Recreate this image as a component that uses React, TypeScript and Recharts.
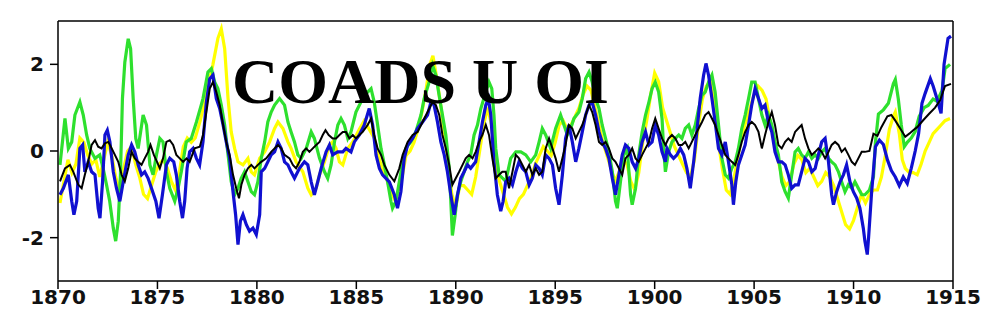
import React from 'react';
import { LineChart, Line, XAxis, YAxis } from 'recharts';

// [year, value] pairs
const yellow: [number, number][] = [
  [1870.1, -1.2], [1870.3, -0.7], [1870.5, -0.2], [1870.7, -0.5], [1870.9, -0.3], [1871.1, 0.3], [1871.3, 0.2], [1871.5, -0.1],
  [1871.7, -0.3], [1871.9, -0.2], [1872.1, -0.6], [1872.3, -0.2], [1872.5, 0.2], [1872.7, -0.1], [1872.9, -0.6], [1873.1, -0.9],
  [1873.3, -0.4], [1873.5, 0.0], [1873.7, 0.1], [1873.9, -0.3], [1874.1, -0.6], [1874.3, -1.0], [1874.5, -1.1], [1874.7, -0.8],
  [1874.9, -0.5], [1875.1, -0.3], [1875.3, -0.2], [1875.5, -0.4], [1875.7, -0.7], [1875.9, -0.9], [1876.1, -0.5], [1876.3, 0.1],
  [1876.5, 0.3], [1876.7, 0.2], [1876.9, 0.3], [1877.15, 0.7], [1877.46, 1.3], [1877.79, 2.0], [1878.04, 2.6], [1878.21, 2.82],
  [1878.38, 2.36], [1878.55, 1.21], [1878.71, 0.44], [1878.88, 0.06], [1879.05, -0.25], [1879.3, -0.32], [1879.55, -0.17],
  [1879.72, -0.48], [1879.88, -0.55], [1880.14, -0.17], [1880.39, -0.02], [1880.64, 0.21], [1880.89, 0.52], [1881.06, 0.67],
  [1881.31, 0.52], [1881.56, 0.21], [1881.72, 0.06], [1881.97, -0.25], [1882.31, -0.48], [1882.56, -0.86], [1882.73, -1.01],
  [1882.98, -0.86], [1883.15, -0.55], [1883.4, -0.25], [1883.65, 0.14], [1883.81, 0.21], [1883.98, 0.06], [1884.15, -0.25],
  [1884.32, -0.32], [1884.57, 0.06], [1884.82, 0.21], [1885.15, 0.5], [1885.4, 0.7], [1885.65, 0.5], [1885.9, 0.3], [1886.1, -0.1],
  [1886.3, -0.4], [1886.5, -0.6], [1886.7, -0.9], [1886.9, -1.1], [1887.1, -1.0], [1887.3, -0.6], [1887.5, -0.1], [1887.7, 0.0],
  [1887.9, 0.2], [1888.1, 0.5], [1888.3, 0.9], [1888.5, 1.4], [1888.7, 2.0], [1888.85, 2.2], [1889.0, 1.8], [1889.2, 1.2],
  [1889.4, 0.5], [1889.6, -0.2], [1889.8, -1.0], [1890.0, -1.3], [1890.2, -0.8], [1890.4, -0.8], [1890.6, -0.9], [1890.8, -1.0],
  [1891.0, -0.6], [1891.2, 0.0], [1891.4, 0.6], [1891.6, 1.0], [1891.8, 0.6], [1892.0, -0.2], [1892.2, -0.7], [1892.4, -1.0],
  [1892.6, -1.3], [1892.8, -1.45], [1893.0, -1.3], [1893.2, -1.1], [1893.4, -1.0], [1893.6, -0.8], [1893.8, -0.6], [1894.0, -0.3],
  [1894.2, -0.1], [1894.4, 0.1], [1894.6, 0.0], [1894.8, -0.1], [1895.0, 0.2], [1895.2, 0.6], [1895.4, 0.7], [1895.6, 0.5],
  [1895.8, 0.6], [1896.0, 0.8], [1896.2, 1.0], [1896.4, 1.3], [1896.6, 1.5], [1896.8, 1.4], [1897.0, 1.0], [1897.2, 0.6],
  [1897.4, 0.2], [1897.6, -0.1], [1897.8, -0.4], [1898.0, -0.7], [1898.2, -0.5], [1898.4, -0.2], [1898.6, -0.3], [1898.8, -0.7],
  [1899.0, -0.9], [1899.2, -0.5], [1899.4, 0.2], [1899.6, 0.7], [1899.8, 1.3], [1900.0, 1.8], [1900.2, 1.6], [1900.4, 1.0],
  [1900.6, 0.7], [1900.8, 0.4], [1901.0, 0.1], [1901.2, -0.1], [1901.4, -0.3], [1901.6, -0.5], [1901.8, -0.6], [1902.0, -0.2],
  [1902.2, 0.6], [1902.4, 1.2], [1902.6, 1.5], [1902.8, 1.6], [1903.0, 1.1], [1903.2, 0.2], [1903.4, -0.4], [1903.6, -0.9],
  [1903.8, -1.0], [1904.0, -0.6], [1904.2, -0.1], [1904.4, 0.4], [1904.6, 0.7], [1904.8, 1.0], [1905.0, 1.3], [1905.2, 1.5],
  [1905.4, 1.4], [1905.6, 1.2], [1905.8, 0.7], [1906.0, 0.3], [1906.2, -0.2], [1906.4, -0.6], [1906.6, -0.8], [1906.8, -0.7],
  [1907.0, -0.3], [1907.2, -0.1], [1907.4, -0.2], [1907.6, -0.5], [1907.8, -0.4], [1908.0, -0.6], [1908.2, -0.8], [1908.4, -0.7],
  [1908.6, -0.5], [1908.8, -0.6], [1909.0, -0.8], [1909.2, -1.1], [1909.4, -1.4], [1909.6, -1.7], [1909.8, -1.8], [1910.0, -1.6],
  [1910.2, -1.3], [1910.4, -1.0], [1910.6, -1.2], [1910.8, -1.0], [1911.0, -0.9], [1911.2, -0.9], [1911.4, -0.6], [1911.6, -0.1],
  [1911.8, 0.5], [1912.0, 0.8], [1912.1, 0.9], [1912.3, 0.4], [1912.45, -0.2], [1912.6, -0.4], [1912.8, -0.5], [1913.0, -0.5],
  [1913.2, -0.55], [1913.4, -0.3], [1913.6, 0.0], [1913.8, 0.2], [1914.0, 0.4], [1914.2, 0.5], [1914.4, 0.6], [1914.6, 0.7],
  [1914.85, 0.75],
];

const green: [number, number][] = [
  [1870.1, -0.32], [1870.35, 0.75], [1870.52, 0.06], [1870.69, 0.21], [1870.85, 0.83], [1871.1, 1.13], [1871.27, 0.83],
  [1871.44, 0.37], [1871.6, 0.06], [1871.86, -0.17], [1872.1, -0.09], [1872.27, -0.4], [1872.44, -0.78], [1872.6, -1.16],
  [1872.78, -1.78], [1872.9, -2.08], [1873.03, -1.62], [1873.14, -0.55], [1873.24, 1.21], [1873.36, 2.05], [1873.53, 2.59],
  [1873.65, 2.36], [1873.78, 1.21], [1873.91, 0.29], [1874.03, 0.06], [1874.28, 0.83], [1874.45, 0.6], [1874.62, -0.32],
  [1874.78, -0.55], [1874.95, -0.09], [1875.12, 0.29], [1875.28, 0.21], [1875.45, -0.48], [1875.62, -0.86], [1875.87, -1.16],
  [1876.04, -0.86], [1876.2, -0.48], [1876.45, 0.21], [1876.7, 0.29], [1876.96, 0.67], [1877.2, 1.06], [1877.29, 1.21],
  [1877.54, 1.82], [1877.71, 1.9], [1877.88, 1.59], [1878.04, 1.44], [1878.21, 1.06], [1878.38, 0.6], [1878.55, -0.09],
  [1878.71, -0.71], [1878.88, -1.01], [1879.05, -0.86], [1879.21, -0.63], [1879.38, -0.48], [1879.55, -0.71], [1879.72, -0.94],
  [1879.88, -1.01], [1880.05, -0.71], [1880.22, -0.17], [1880.39, 0.21], [1880.55, 0.67], [1880.72, 0.9], [1880.89, 1.06],
  [1881.14, 1.21], [1881.39, 1.06], [1881.56, 0.67], [1881.72, 0.44], [1881.89, 0.21], [1882.06, -0.09], [1882.23, -0.17],
  [1882.48, 0.06], [1882.73, 0.44], [1882.89, 0.29], [1883.15, -0.17], [1883.4, -0.48], [1883.56, -0.63], [1883.73, -0.32],
  [1883.9, 0.21], [1884.07, 0.6], [1884.23, 0.75], [1884.4, 0.6], [1884.57, 0.29], [1884.73, 0.44], [1884.98, 0.9],
  [1885.32, 1.21], [1885.57, 1.36], [1885.74, 1.44], [1885.9, 1.13], [1886.07, 0.6], [1886.24, 0.06], [1886.41, -0.32],
  [1886.57, -0.71], [1886.74, -1.16], [1886.82, -1.32], [1886.99, -1.16], [1887.16, -0.71], [1887.33, -0.25], [1887.49, 0.06],
  [1887.74, 0.21], [1887.99, 0.44], [1888.25, 0.83], [1888.41, 1.21], [1888.66, 1.59], [1888.83, 1.98], [1889.0, 1.75],
  [1889.16, 1.29], [1889.33, 0.83], [1889.5, 0.37], [1889.67, -0.4], [1889.75, -1.16], [1889.83, -1.95], [1889.97, -1.47],
  [1890.08, -1.01], [1890.25, -0.71], [1890.42, -0.48], [1890.59, -0.25], [1890.75, -0.09], [1890.92, 0.37], [1891.09, 0.6],
  [1891.26, 0.98], [1891.51, 1.36], [1891.67, 1.59], [1891.81, 1.44], [1891.92, 0.83], [1892.01, 0.06], [1892.18, -0.55],
  [1892.51, -0.7], [1892.76, -0.17], [1893.02, -0.02], [1893.27, -0.02], [1893.52, -0.09], [1893.77, -0.25], [1894.02, -0.09],
  [1894.19, 0.21], [1894.35, 0.52], [1894.52, 0.37], [1894.77, 0.06], [1895.02, 0.52], [1895.27, 0.83], [1895.44, 0.6],
  [1895.61, 0.37], [1895.78, 0.52], [1895.94, 0.75], [1896.19, 0.9], [1896.36, 1.21], [1896.53, 1.67], [1896.7, 1.82],
  [1896.86, 1.59], [1897.03, 1.21], [1897.2, 0.98], [1897.36, 0.6], [1897.53, 0.29], [1897.7, -0.02], [1897.87, -0.48],
  [1898.03, -1.16], [1898.12, -1.32], [1898.28, -0.71], [1898.45, -0.09], [1898.62, 0.06], [1898.79, -1.01], [1898.87, -1.24],
  [1899.04, -0.86], [1899.2, -0.09], [1899.37, 0.44], [1899.54, 0.83], [1899.71, 1.13], [1899.87, 1.44], [1900.03, 1.59],
  [1900.2, 1.36], [1900.37, 0.75], [1900.45, 0.06], [1900.54, -0.48], [1900.7, -0.02], [1900.87, 0.21], [1901.04, 0.29],
  [1901.21, 0.37], [1901.37, 0.29], [1901.54, 0.52], [1901.71, 0.6], [1901.87, 0.37], [1902.04, 0.6], [1902.21, 0.98],
  [1902.38, 1.29], [1902.54, 1.36], [1902.71, 1.59], [1902.88, 1.75], [1903.04, 1.36], [1903.21, 0.6], [1903.38, -0.17],
  [1903.55, -0.55], [1903.71, -0.63], [1903.88, -0.4], [1904.05, -0.25], [1904.21, 0.06], [1904.38, 0.52], [1904.55, 0.83],
  [1904.72, 1.21], [1904.88, 1.59], [1905.05, 1.59], [1905.22, 1.21], [1905.39, 0.83], [1905.55, 0.6], [1905.72, 0.83],
  [1905.89, 0.6], [1906.05, 0.21], [1906.22, -0.09], [1906.39, -0.71], [1906.56, -0.94], [1906.72, -1.09], [1906.89, -0.55],
  [1907.06, -0.02], [1907.22, 0.06], [1907.39, -0.09], [1907.56, -0.17], [1907.73, -0.02], [1907.9, -0.17], [1908.07, -0.09],
  [1908.23, -0.17], [1908.4, -0.02], [1908.57, 0.06], [1908.74, -0.17], [1908.9, -0.25], [1909.07, -0.32], [1909.24, -0.48],
  [1909.4, -0.71], [1909.57, -0.94], [1909.74, -0.78], [1909.91, -0.86], [1910.07, -0.71], [1910.24, -0.86], [1910.41, -1.01],
  [1910.57, -1.01], [1910.8, -0.9], [1911.0, -0.6], [1911.1, 0.2], [1911.25, 0.85], [1911.5, 0.95], [1911.75, 1.1],
  [1912.0, 1.55], [1912.1, 1.65], [1912.25, 1.2], [1912.4, 0.6], [1912.55, 0.1], [1912.7, 0.2], [1912.9, 0.3], [1913.1, 0.45],
  [1913.3, 0.8], [1913.55, 1.0], [1913.75, 1.05], [1914.0, 1.2], [1914.2, 1.15], [1914.45, 1.4], [1914.6, 1.9], [1914.85, 2.0],
];

const blue: [number, number][] = [
  [1870.1, -1.01], [1870.27, -0.86], [1870.52, -0.55], [1870.69, -1.16], [1870.8, -1.47], [1870.94, -1.16], [1871.1, 0.06],
  [1871.24, 0.14], [1871.35, -0.48], [1871.52, -0.25], [1871.69, -0.48], [1871.86, -0.55], [1872.02, -1.32], [1872.11, -1.55],
  [1872.24, -0.71], [1872.36, 0.37], [1872.48, 0.48], [1872.61, 0.21], [1872.78, -0.48], [1872.94, -0.86], [1873.11, -1.16],
  [1873.28, -0.71], [1873.53, -0.09], [1873.7, 0.14], [1873.86, -0.02], [1874.03, -0.32], [1874.2, -0.55], [1874.36, -0.48],
  [1874.53, -0.63], [1874.7, -0.86], [1874.92, -1.16], [1875.08, -1.55], [1875.25, -1.01], [1875.45, -0.32], [1875.62, -0.17],
  [1875.82, -0.25], [1875.95, -0.55], [1876.12, -1.16], [1876.26, -1.55], [1876.37, -1.16], [1876.49, -0.4], [1876.62, -0.02],
  [1876.79, 0.06], [1876.96, -0.17], [1877.12, -0.32], [1877.29, 0.21], [1877.46, 1.13], [1877.63, 1.67], [1877.79, 1.75],
  [1877.96, 1.21], [1878.13, 0.98], [1878.3, 0.6], [1878.46, 0.21], [1878.63, -0.17], [1878.8, -0.94], [1878.93, -1.47],
  [1879.05, -2.16], [1879.17, -1.62], [1879.3, -1.47], [1879.47, -1.7], [1879.63, -1.85], [1879.8, -1.78], [1879.97, -1.93],
  [1880.14, -1.47], [1880.22, -0.48], [1880.39, -0.4], [1880.55, -0.25], [1880.72, -0.09], [1880.89, -0.02], [1881.06, 0.21],
  [1881.22, 0.06], [1881.39, -0.25], [1881.56, -0.32], [1881.72, -0.48], [1881.89, -0.63], [1882.14, -0.4], [1882.39, -0.25],
  [1882.56, -0.32], [1882.73, -0.71], [1882.89, -1.01], [1883.06, -0.71], [1883.23, -0.4], [1883.48, -0.02], [1883.65, 0.14],
  [1883.81, -0.09], [1884.06, -0.02], [1884.32, -0.02], [1884.48, 0.06], [1884.73, -0.02], [1884.9, 0.21], [1885.15, 0.37],
  [1885.4, 0.6], [1885.65, 0.98], [1885.82, 0.6], [1885.99, -0.09], [1886.16, -0.4], [1886.32, -0.55], [1886.49, -0.63],
  [1886.66, -0.71], [1886.91, -1.01], [1887.07, -1.32], [1887.24, -0.94], [1887.41, -0.17], [1887.58, 0.14], [1887.83, 0.29],
  [1888.08, 0.52], [1888.33, 0.67], [1888.58, 0.83], [1888.75, 1.13], [1888.91, 1.06], [1889.08, 0.67], [1889.25, 0.21],
  [1889.42, -0.09], [1889.58, -0.48], [1889.75, -1.01], [1889.92, -1.47], [1890.09, -1.01], [1890.25, -0.63], [1890.42, -0.48],
  [1890.59, -0.32], [1890.75, -0.4], [1891.0, -0.25], [1891.17, 0.21], [1891.34, 0.67], [1891.51, 1.06], [1891.64, 1.21],
  [1891.76, 0.83], [1891.92, -0.25], [1892.09, -1.01], [1892.26, -1.39], [1892.38, -1.16], [1892.51, -0.71], [1892.68, -0.63],
  [1892.85, -0.78], [1893.02, -0.48], [1893.18, -0.25], [1893.35, -0.4], [1893.52, -0.48], [1893.69, -0.78], [1893.85, -0.63],
  [1894.02, -0.32], [1894.19, -0.4], [1894.35, -0.55], [1894.52, -0.09], [1894.69, -0.17], [1894.86, -0.32], [1895.02, -0.86],
  [1895.19, -1.24], [1895.36, -0.55], [1895.52, 0.29], [1895.69, 0.6], [1895.86, 0.21], [1896.03, -0.25], [1896.19, 0.06],
  [1896.36, 0.44], [1896.53, 0.83], [1896.7, 1.06], [1896.86, 1.13], [1897.03, 0.83], [1897.2, 0.44], [1897.36, 0.21],
  [1897.53, 0.06], [1897.7, -0.17], [1897.87, -0.63], [1898.03, -1.01], [1898.2, -0.55], [1898.37, -0.09], [1898.53, 0.14],
  [1898.7, 0.06], [1898.87, -0.25], [1899.04, -0.4], [1899.2, -0.17], [1899.37, 0.21], [1899.54, 0.44], [1899.71, 0.14],
  [1899.87, 0.21], [1900.03, 0.6], [1900.2, 0.37], [1900.37, -0.02], [1900.54, -0.25], [1900.62, 0.06], [1900.79, -0.09],
  [1900.95, -0.17], [1901.12, -0.09], [1901.29, 0.06], [1901.46, -0.09], [1901.62, -0.4], [1901.79, -0.86], [1901.96, -0.25],
  [1902.12, 0.44], [1902.29, 1.21], [1902.46, 1.75], [1902.58, 2.02], [1902.71, 1.75], [1902.88, 1.21], [1903.04, 0.67],
  [1903.21, 0.06], [1903.38, -0.09], [1903.55, 0.21], [1903.71, -0.25], [1903.88, -0.78], [1903.96, -1.24], [1904.08, -0.71],
  [1904.21, -0.32], [1904.38, -0.09], [1904.55, 0.14], [1904.72, 0.6], [1904.88, 1.06], [1905.05, 1.44], [1905.22, 1.21],
  [1905.39, 0.98], [1905.55, 1.06], [1905.72, 0.67], [1905.89, 0.44], [1906.05, -0.02], [1906.22, -0.25], [1906.39, -0.25],
  [1906.56, -0.32], [1906.72, -0.55], [1906.89, -0.86], [1907.06, -0.78], [1907.22, -0.78], [1907.39, -0.48], [1907.56, -0.17],
  [1907.73, -0.25], [1907.9, -0.48], [1908.07, -0.4], [1908.23, -0.09], [1908.4, 0.21], [1908.57, 0.29], [1908.74, -0.25],
  [1908.9, -1.01], [1908.99, -1.24], [1909.15, -0.94], [1909.32, -0.71], [1909.49, -0.55], [1909.65, -0.32], [1909.82, -0.71],
  [1909.99, -0.94], [1910.16, -1.09], [1910.32, -1.32], [1910.49, -1.78], [1910.57, -2.08], [1910.69, -2.39], [1910.76, -1.97],
  [1910.9, -1.0], [1911.1, 0.1], [1911.3, 0.25], [1911.5, 0.15], [1911.7, -0.2], [1911.9, -0.45], [1912.1, -0.6], [1912.3, -0.8],
  [1912.5, -0.6], [1912.7, -0.75], [1912.9, -0.4], [1913.1, 0.0], [1913.27, 0.4], [1913.44, 1.1], [1913.6, 1.33], [1913.86, 1.67],
  [1914.0, 1.5], [1914.2, 1.2], [1914.4, 0.87], [1914.55, 2.0], [1914.75, 2.6], [1914.9, 2.65],
];

const black: [number, number][] = [
  [1870.1, -0.7], [1870.35, -0.4], [1870.6, -0.32], [1870.77, -0.48], [1871.02, -0.78], [1871.19, -0.86], [1871.35, -0.55],
  [1871.52, -0.25], [1871.69, 0.14], [1871.86, 0.25], [1872.02, 0.1], [1872.19, 0.06], [1872.36, 0.18], [1872.53, 0.21],
  [1872.7, 0.06], [1872.86, -0.09], [1873.03, -0.25], [1873.2, -0.55], [1873.36, -0.7], [1873.53, -0.4], [1873.7, -0.02],
  [1873.86, -0.17], [1874.03, -0.25], [1874.2, -0.32], [1874.36, -0.17], [1874.53, -0.02], [1874.65, 0.14], [1874.82, -0.09],
  [1874.98, -0.25], [1875.12, -0.4], [1875.28, -0.17], [1875.45, 0.21], [1875.62, 0.25], [1875.79, 0.14], [1875.95, -0.09],
  [1876.12, -0.17], [1876.29, -0.25], [1876.46, -0.17], [1876.62, -0.25], [1876.87, 0.06], [1877.13, 0.1], [1877.29, 0.37],
  [1877.46, 0.9], [1877.63, 1.44], [1877.79, 1.59], [1877.96, 1.36], [1878.13, 1.06], [1878.3, 0.6], [1878.46, 0.21],
  [1878.63, -0.09], [1878.8, -0.55], [1878.96, -0.86], [1879.1, -1.09], [1879.22, -0.78], [1879.38, -0.55], [1879.55, -0.4],
  [1879.72, -0.32], [1879.88, -0.4], [1880.05, -0.32], [1880.22, -0.25], [1880.47, -0.17], [1880.72, -0.02], [1880.89, 0.06],
  [1881.06, 0.14], [1881.22, 0.06], [1881.39, -0.09], [1881.64, -0.17], [1881.81, -0.32], [1881.97, -0.4], [1882.14, -0.25],
  [1882.31, -0.02], [1882.48, 0.06], [1882.64, -0.02], [1882.81, 0.06], [1882.98, 0.14], [1883.15, 0.21], [1883.31, 0.37],
  [1883.45, 0.48], [1883.61, 0.37], [1883.81, 0.29], [1883.98, 0.29], [1884.15, 0.37], [1884.32, 0.44], [1884.48, 0.44],
  [1884.65, 0.29], [1884.82, 0.37], [1884.98, 0.29], [1885.32, 0.44], [1885.57, 0.6], [1885.74, 0.75], [1885.9, 0.37],
  [1886.07, 0.06], [1886.24, -0.09], [1886.41, -0.32], [1886.66, -0.55], [1886.91, -0.7], [1887.16, -0.4], [1887.33, -0.09],
  [1887.58, 0.21], [1887.83, 0.37], [1888.08, 0.44], [1888.33, 0.67], [1888.58, 0.9], [1888.83, 1.13], [1889.0, 1.06],
  [1889.17, 0.83], [1889.33, 0.37], [1889.5, 0.06], [1889.67, -0.32], [1889.83, -0.78], [1890.0, -0.63], [1890.17, -0.48],
  [1890.34, -0.32], [1890.5, -0.17], [1890.67, -0.09], [1890.84, -0.17], [1891.0, -0.02], [1891.17, 0.21], [1891.34, 0.37],
  [1891.51, 0.6], [1891.67, 0.37], [1891.84, -0.17], [1892.01, -0.63], [1892.18, -0.55], [1892.34, -0.48], [1892.51, -0.48],
  [1892.68, -0.86], [1892.85, -0.48], [1893.02, -0.09], [1893.18, -0.17], [1893.35, -0.32], [1893.52, -0.48], [1893.69, -0.32],
  [1893.85, -0.55], [1894.02, -0.4], [1894.19, -0.55], [1894.35, -0.48], [1894.52, 0.06], [1894.69, 0.29], [1894.86, 0.06],
  [1895.02, -0.17], [1895.19, -0.48], [1895.36, -0.17], [1895.52, 0.14], [1895.69, 0.6], [1895.86, 0.52], [1896.03, 0.29],
  [1896.19, 0.44], [1896.36, 0.6], [1896.53, 0.83], [1896.7, 1.06], [1896.86, 0.9], [1897.03, 0.6], [1897.2, 0.21],
  [1897.36, 0.14], [1897.53, 0.21], [1897.7, 0.06], [1897.87, -0.17], [1898.03, -0.25], [1898.2, -0.4], [1898.37, -0.55],
  [1898.53, -0.17], [1898.7, -0.09], [1898.87, 0.06], [1899.04, -0.17], [1899.2, -0.25], [1899.37, -0.09], [1899.54, 0.06],
  [1899.71, 0.21], [1899.87, 0.52], [1900.03, 0.75], [1900.2, 0.52], [1900.37, 0.29], [1900.54, 0.14], [1900.7, 0.29],
  [1900.87, 0.37], [1901.04, 0.29], [1901.21, 0.14], [1901.37, 0.14], [1901.54, 0.21], [1901.71, 0.06], [1901.87, 0.21],
  [1902.04, 0.37], [1902.21, 0.52], [1902.38, 0.67], [1902.54, 0.83], [1902.71, 0.9], [1902.88, 0.75], [1903.04, 0.6],
  [1903.21, 0.37], [1903.38, 0.14], [1903.55, -0.09], [1903.71, -0.17], [1903.88, -0.25], [1904.05, -0.32], [1904.21, -0.09],
  [1904.38, 0.21], [1904.55, 0.44], [1904.72, 0.6], [1904.88, 0.67], [1905.05, 0.6], [1905.22, 0.44], [1905.39, 0.06],
  [1905.55, 0.37], [1905.72, 0.67], [1905.89, 0.9], [1906.05, 0.6], [1906.22, 0.14], [1906.39, 0.06], [1906.56, 0.21],
  [1906.72, 0.29], [1906.89, 0.21], [1907.06, 0.44], [1907.22, 0.52], [1907.39, 0.6], [1907.56, 0.29], [1907.73, 0.06],
  [1907.9, -0.09], [1908.07, -0.02], [1908.23, 0.06], [1908.4, -0.02], [1908.57, -0.17], [1908.74, -0.02], [1908.9, 0.14],
  [1909.07, 0.21], [1909.24, 0.14], [1909.4, -0.02], [1909.57, 0.06], [1909.74, -0.09], [1909.91, -0.25], [1910.07, -0.32],
  [1910.24, -0.17], [1910.41, -0.02], [1910.57, -0.02], [1910.8, 0.0], [1911.0, 0.4], [1911.2, 0.35], [1911.4, 0.55],
  [1911.7, 0.8], [1911.9, 0.83], [1912.1, 0.7], [1912.4, 0.48], [1912.6, 0.33], [1912.8, 0.4], [1913.0, 0.48], [1913.2, 0.55],
  [1913.5, 0.71], [1913.8, 0.86], [1914.1, 1.0], [1914.35, 1.17], [1914.6, 1.5], [1914.9, 1.55],
];

const xTicks = [1870, 1875, 1880, 1885, 1890, 1895, 1900, 1905, 1910, 1915];
const yTicks = [-2, 0, 2];

const toPts = (arr: [number, number][]) => arr.map(([t, v]) => ({ t, v }));

const axisStroke = { stroke: '#000', strokeWidth: 1.5 };
const tickFont = { fontFamily: 'DejaVu Sans', fontWeight: 'bold', fontSize: 20, fill: '#111' } as const;

export default function App() {
  return (
    <div style={{ position: 'relative', width: 986, height: 328 }}>
      <LineChart width={986} height={328} margin={{ top: 12, right: 40, left: 0, bottom: 0 }}>
        <XAxis
          dataKey="t"
          type="number"
          domain={[1870, 1915]}
          ticks={xTicks}
          height={55}
          tickSize={8}
          tickMargin={1}
          axisLine={axisStroke}
          tickLine={axisStroke}
          tick={tickFont}
          allowDataOverflow
        />
        <XAxis
          xAxisId="top"
          orientation="top"
          dataKey="t"
          type="number"
          domain={[1870, 1915]}
          ticks={xTicks}
          height={1}
          tickSize={8}
          axisLine={axisStroke}
          tickLine={axisStroke}
          tick={false}
        />
        <YAxis
          type="number"
          domain={[-3, 3]}
          ticks={yTicks}
          width={50}
          tickSize={8}
          tickMargin={6}
          axisLine={axisStroke}
          tickLine={axisStroke}
          tick={tickFont}
          allowDataOverflow
        />
        <YAxis
          yAxisId="right"
          orientation="right"
          type="number"
          domain={[-3, 3]}
          ticks={yTicks}
          width={1}
          tickSize={8}
          axisLine={axisStroke}
          tickLine={axisStroke}
          tick={false}
        />
        <Line data={toPts(yellow)} dataKey="v" type="linear" stroke="#ffff00" strokeWidth={3.2} dot={false} isAnimationActive={false} />
        <Line data={toPts(green)} dataKey="v" type="linear" stroke="#2ee02e" strokeWidth={3.2} dot={false} isAnimationActive={false} />
        <Line data={toPts(blue)} dataKey="v" type="linear" stroke="#1010d0" strokeWidth={3.2} dot={false} isAnimationActive={false} />
        <Line data={toPts(black)} dataKey="v" type="linear" stroke="#000000" strokeWidth={2} dot={false} isAnimationActive={false} />
      </LineChart>
      <svg width={986} height={328} style={{ position: 'absolute', left: 0, top: 0, pointerEvents: 'none' }}>
        <text x={224} y={95} fontFamily="Liberation Serif" fontWeight="bold" fontSize={64} fill="#000">
          COADS U OI
        </text>
      </svg>
    </div>
  );
}
